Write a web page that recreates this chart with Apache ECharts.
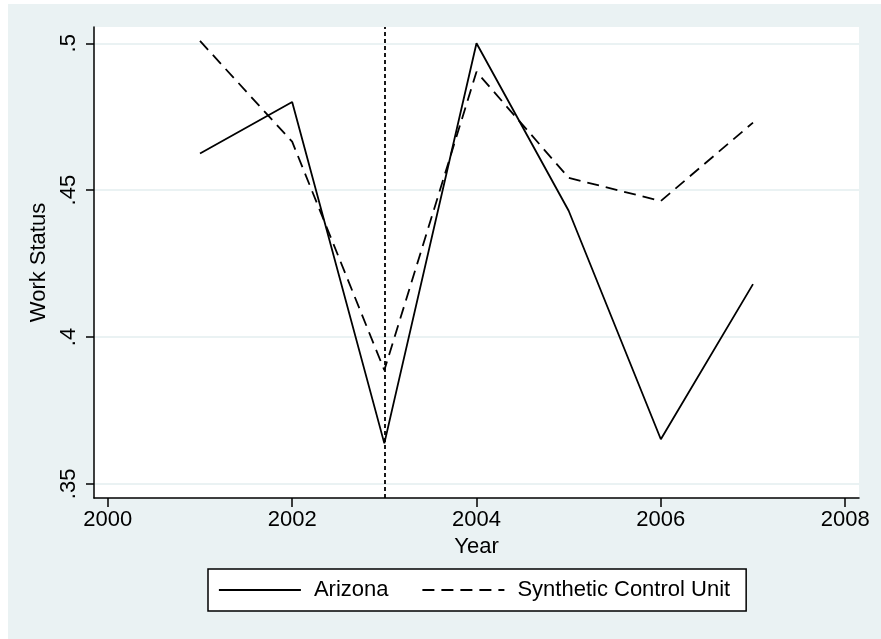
<!DOCTYPE html>
<html>
<head>
<meta charset="utf-8">
<script src="https://cdn.jsdelivr.net/npm/echarts@6/dist/echarts.min.js"></script>
<style>
html,body{margin:0;padding:0;background:#fff;}
#chart{width:881px;height:639px;}
</style>
</head>
<body>
<div id="chart"></div>
<script>
var years = [2001, 2002, 2003, 2004, 2005, 2006, 2007];
var arizona = [0.4625, 0.48, 0.3638, 0.5, 0.443, 0.3652, 0.418];
var synthetic = [0.5008, 0.4665, 0.3887, 0.4903, 0.4542, 0.4463, 0.473];
var xTicks = [2000, 2002, 2004, 2006, 2008];
var yTicks = [0.35, 0.4, 0.45, 0.5];
var yTickLabels = ['.35', '.4', '.45', '.5'];
var treatmentYear = 2003;

function pairs(xs, ys) { return xs.map(function (x, i) { return [x, ys[i]]; }); }

var FONT = 'Liberation Sans, Arial, Helvetica, sans-serif';
var FS = 22;

var chart = echarts.init(document.getElementById('chart'), null, {renderer: 'canvas'});
chart.setOption({
  backgroundColor: '#ffffff',
  animation: false,
  textStyle: {fontFamily: FONT, color: '#000'},
  graphic: [{
    type: 'rect', z: -100, silent: true,
    shape: {x: 8, y: 4, width: 873, height: 635},
    style: {fill: '#EAF2F3'}
  }],
  grid: {
    left: 94, top: 27, right: 22, bottom: 141,
    show: true, backgroundColor: '#ffffff', borderWidth: 0
  },
  xAxis: {
    type: 'value', min: 1999.85, max: 2008.15,
    name: 'Year', nameLocation: 'middle', nameGap: 34,
    nameTextStyle: {fontSize: FS, color: '#000', fontFamily: FONT},
    axisLine: {show: true, onZero: false, lineStyle: {color: '#000', width: 1.5}},
    axisTick: {show: true, length: 9, customValues: xTicks, lineStyle: {color: '#000', width: 1.5}},
    axisLabel: {show: true, margin: 11, customValues: xTicks, fontSize: FS, color: '#000', fontFamily: FONT,
      formatter: function (v) { return String(v); }},
    splitLine: {show: false}
  },
  yAxis: {
    type: 'value', min: 0.3452, max: 0.50555,
    name: 'Work Status', nameLocation: 'middle', nameGap: 36,
    nameTextStyle: {fontSize: FS, color: '#000', fontFamily: FONT},
    axisLine: {show: true, onZero: false, lineStyle: {color: '#000', width: 1.5}},
    axisTick: {show: true, length: 8, customValues: yTicks, lineStyle: {color: '#000', width: 1.5}},
    axisLabel: {show: true, margin: 14, rotate: 90, customValues: yTicks, fontSize: FS, color: '#000', fontFamily: FONT,
      formatter: function (v) {
        for (var i = 0; i < yTicks.length; i++) { if (Math.abs(v - yTicks[i]) < 1e-6) return yTickLabels[i]; }
        return '';
      }},
    splitLine: {show: true, lineStyle: {color: '#EAF2F3', width: 2}}
  },
  legend: {
    left: 208, top: 569,
    orient: 'horizontal',
    padding: [10, 16, 10, 10],
    itemGap: 33,
    itemWidth: 82, itemHeight: 14,
    backgroundColor: '#ffffff',
    borderColor: '#000', borderWidth: 1.5, borderRadius: 0,
    itemStyle: {opacity: 0},
    textStyle: {fontSize: FS, color: '#000', fontFamily: FONT, padding: [0, 0, 0, 8]},
    data: [
      {name: 'Arizona', lineStyle: {color: '#000', width: 1.8, type: 'solid'}},
      {name: 'Synthetic Control Unit', lineStyle: {color: '#000', width: 1.8, type: [12, 7]}}
    ]
  },
  series: [
    {
      name: 'Arizona', type: 'line', data: pairs(years, arizona),
      symbol: 'none', showSymbol: false,
      lineStyle: {color: '#000', width: 1.8, type: 'solid'},
      itemStyle: {color: '#000'},
      markLine: {
        silent: true, symbol: ['none', 'none'], label: {show: false},
        lineStyle: {color: '#000', width: 1.8, type: [4, 3]},
        data: [{xAxis: treatmentYear}]
      }
    },
    {
      name: 'Synthetic Control Unit', type: 'line', data: pairs(years, synthetic),
      symbol: 'none', showSymbol: false,
      lineStyle: {color: '#000', width: 1.8, type: [12, 7]},
      itemStyle: {color: '#000'}
    }
  ]
});
</script>
</body>
</html>
